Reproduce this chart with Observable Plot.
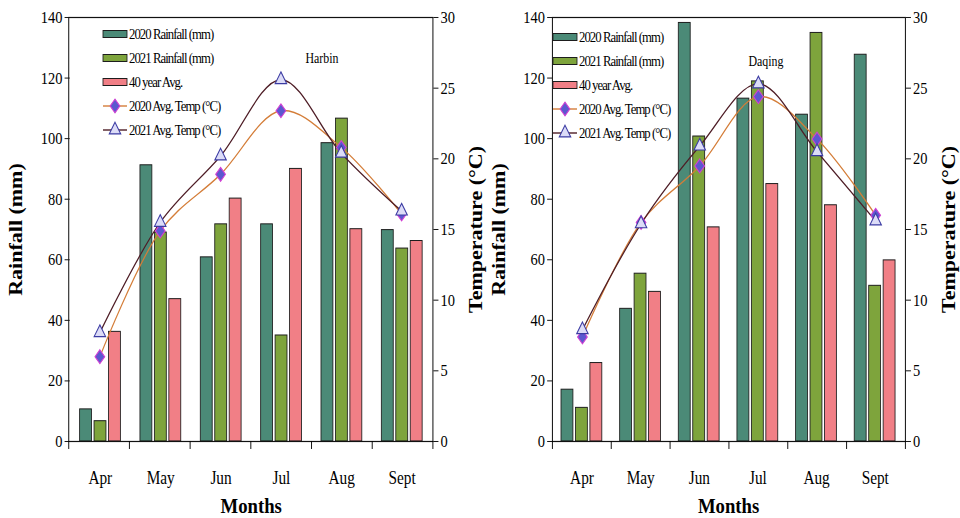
<!DOCTYPE html>
<html><head><meta charset="utf-8">
<script src="https://cdn.jsdelivr.net/npm/d3@7"></script>
<script src="https://cdn.jsdelivr.net/npm/@observablehq/plot@0.6"></script>
<style>
body{margin:0;background:#fff;font-family:"Liberation Serif","Times New Roman",serif;}
#root{position:relative;width:960px;height:518px;overflow:hidden;background:#fff;}
.chart{position:absolute;top:0;width:480px;height:518px;}
.inner{position:absolute;left:0;top:0;height:518px;transform-origin:0 0;}
.inner svg{position:absolute;left:0;top:0;overflow:visible;max-width:none;}
g[aria-label$="axis label"] text{font-weight:bold;font-size:22px;}
</style>
</head><body><div id="root"></div>
<script>
// ---------------- data ----------------
const months = ["Apr", "May", "Jun", "Jul", "Aug", "Sept"];
const rainSeries = ["2020 Rainfall (mm)", "2021 Rainfall (mm)", "40 year Avg."];
const tempSeries = ["2020 Avg. Temp (°C)", "2021 Avg. Temp (°C)"];
const rainTicks = [0, 20, 40, 60, 80, 100, 120, 140];
const tempTicks = [0, 5, 10, 15, 20, 25, 30];

const harbinRain2020 = [10.6, 91.2, 60.8, 71.7, 98.5, 69.8];
const harbinRain2021 = [6.7, 69, 71.7, 35, 106.6, 63.7];
const harbinRain40yr = [36.2, 47, 80.2, 90, 70.1, 66.2];
const harbinTemp2020 = [6.0, 14.9, 18.9, 23.4, 20.8, 16.1];
const harbinTemp2021 = [7.7, 15.5, 20.2, 25.6, 20.4, 16.3];

const daqingRain2020 = [17.1, 43.8, 138.2, 113.2, 107.9, 127.7];
const daqingRain2021 = [11.1, 55.4, 100.7, 118.9, 134.9, 51.4];
const daqingRain40yr = [25.9, 49.4, 70.7, 85, 78, 59.8];
const daqingTemp2020 = [7.4, 15.5, 19.5, 24.4, 21.4, 16.0];
const daqingTemp2021 = [7.9, 15.4, 20.9, 25.3, 20.5, 15.6];

// ---------------- styles ----------------
const barColors = ["#4b8a77", "#7ea43c", "#f17f86"];
const lineColors = ["#d47d38", "#4e1d26"];
const S = 0.85; // horizontal condensation of the original figure

const diamondSym = {draw(ctx, size) { const h = Math.sqrt(size / 1.66), w = 0.83 * h;
  ctx.moveTo(0, -h); ctx.lineTo(w, 0); ctx.lineTo(0, h); ctx.lineTo(-w, 0); ctx.closePath(); }};
const markerStyle = [
  {symbol: diamondSym, fill: "#5b58cf", stroke: "#d23fd2"},
  {symbol: "triangle", fill: "#dcdcf7", stroke: "#3b3ba3"}
];

function makeChart(cfg) {
  const root = document.getElementById("root");
  const chart = document.createElement("div");
  chart.className = "chart"; chart.style.left = cfg.left + "px";
  const inner = document.createElement("div");
  inner.className = "inner";
  const W = 480 / S;
  inner.style.width = W + "px";
  inner.style.transform = `scaleX(${S})`;
  chart.appendChild(inner); root.appendChild(chart);

  const common = {
    width: W, height: 518,
    marginLeft: cfg.axisL / S, marginRight: W - cfg.axisR / S,
    marginTop: 17, marginBottom: 77,
    style: {background: "transparent", fontFamily: "'Liberation Serif', serif", fontSize: "17px", color: "#000", overflow: "visible"}
  };

  const rainRows = months.flatMap((m, i) => rainSeries.map((s, j) => ({month: m, series: s, value: cfg.rain[j][i]})));
  const tempRows = tempSeries.map((s, j) => months.map((m, i) => ({month: m, series: s, value: cfg.temp[j][i]})));

  const bars = Plot.plot({
    ...common,
    fx: {domain: months, padding: 0},
    x: {domain: rainSeries, paddingInner: 0.16, paddingOuter: 0.6, axis: null},
    y: {domain: [0, 140]},
    color: {domain: rainSeries, range: barColors},
    marks: [
      Plot.barY(rainRows, {fx: "month", x: "series", y: "value", fill: "series", stroke: "#1d1d1d", strokeWidth: 1}),
      Plot.axisY({ticks: rainTicks, tickSize: 6, tickPadding: 3, label: "Rainfall (mm)", labelAnchor: "center", labelArrow: "none", labelOffset: 72}),
      Plot.axisFx({anchor: "bottom", tickSize: 0, tickPadding: 30, fontSize: 18, label: "Months", labelAnchor: "center", labelArrow: "none", labelOffset: 72})
    ]
  });

  const temps = Plot.plot({
    ...common,
    x: {type: "point", domain: months, padding: 0.5, axis: null},
    y: {domain: [0, 30]},
    marks: [
      ...tempRows.map((rows, j) => Plot.line(rows, {x: "month", y: "value", stroke: lineColors[j], strokeWidth: 1.4, curve: "catmull-rom"})),
      ...tempRows.map((rows, j) => Plot.dot(rows, {x: "month", y: "value", r: 5, strokeWidth: 1.2, ...markerStyle[j]})),
      Plot.axisY({anchor: "right", ticks: tempTicks, tickSize: 6, tickPadding: 3, label: "Temperature (°C)", labelAnchor: "center", labelArrow: "none", labelOffset: 58})
    ]
  });

  const frame = Plot.plot({
    ...common,
    x: {domain: [0, months.length]},
    y: {domain: [0, 1], axis: null},
    marks: [
      Plot.frame({stroke: "#111", strokeWidth: 1.2}),
      Plot.axisX({ticks: d3.range(months.length + 1), tickSize: 8, tickFormat: () => "", label: null})
    ]
  });

  inner.appendChild(bars); inner.appendChild(temps); inner.appendChild(frame);

  // legend (hand-built, inside the plot area)
  const lg = d3.select(inner).append("svg")
    .attr("width", W).attr("height", 518)
    .style("font-family", "'Liberation Serif', serif").style("font-size", "15px");
  const sx = cfg.legendX / S, sw = 24 / S, tx = (cfg.legendX + 26) / S;
  const names = [...rainSeries, ...tempSeries];
  names.forEach((name, k) => {
    const y = cfg.legendY + 24 * k;
    if (k < 3) {
      lg.append("rect").attr("x", sx).attr("y", y - 3.5).attr("width", sw).attr("height", 7)
        .attr("fill", barColors[k]).attr("stroke", "#1d1d1d").attr("stroke-width", 1);
    } else {
      const j = k - 3;
      lg.append("line").attr("x1", sx).attr("x2", sx + sw).attr("y1", y).attr("y2", y)
        .attr("stroke", lineColors[j]).attr("stroke-width", 1.4);
      const sym = j === 0 ? diamondSym : d3.symbolTriangle;
      lg.append("path").attr("d", d3.symbol(sym, Math.PI * 25)())
        .attr("transform", `translate(${sx + sw / 2},${y})`)
        .attr("fill", markerStyle[j].fill).attr("stroke", markerStyle[j].stroke).attr("stroke-width", 1.2);
    }
    lg.append("text").attr("x", tx).attr("y", y).attr("dy", "0.35em")
      .attr("letter-spacing", "-1.1px").text(name);
  });
  lg.append("text").attr("x", cfg.stationX / S).attr("y", cfg.stationY).attr("dy", "0.35em")
    .attr("text-anchor", "middle").style("font-size", "14px").text(cfg.station);
}

makeChart({left: 0, axisL: 68.3, axisR: 432.5, rain: [harbinRain2020, harbinRain2021, harbinRain40yr],
  temp: [harbinTemp2020, harbinTemp2021], legendX: 103, legendY: 34, station: "Harbin", stationX: 322, stationY: 58});
makeChart({left: 480, axisL: 72, axisR: 425, rain: [daqingRain2020, daqingRain2021, daqingRain40yr],
  temp: [daqingTemp2020, daqingTemp2021], legendX: 73, legendY: 37, station: "Daqing", stationX: 286, stationY: 61});
</script></body></html>
